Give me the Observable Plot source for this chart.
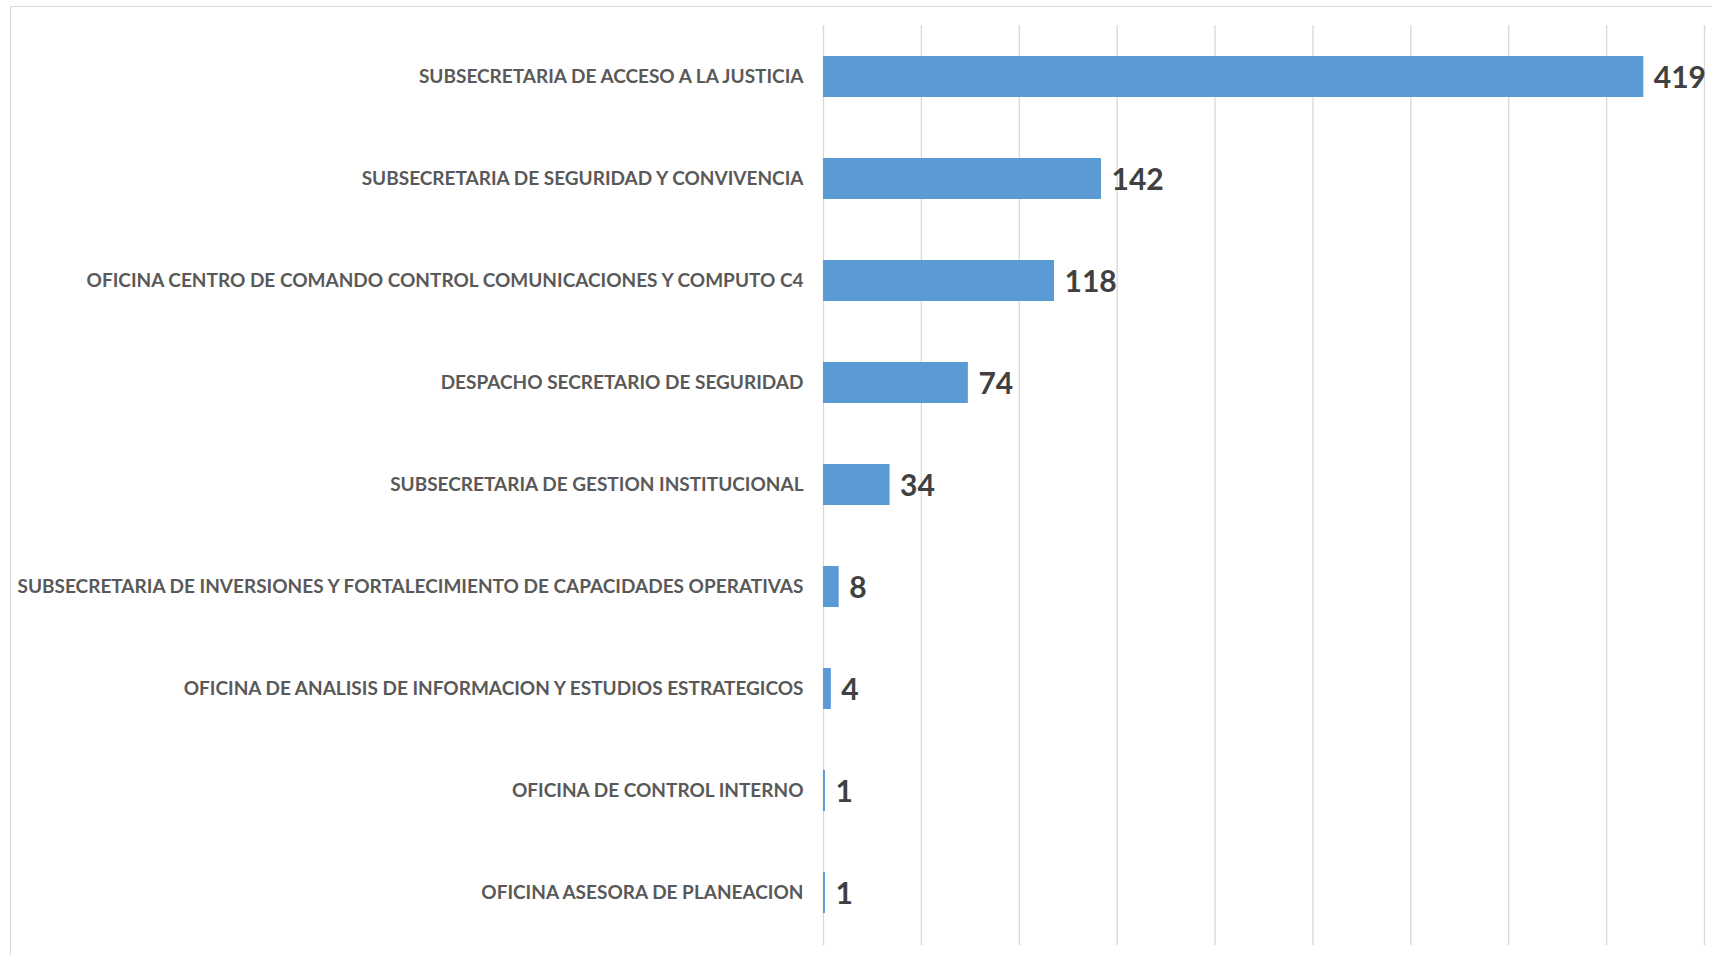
<!DOCTYPE html>
<html>
<head>
<meta charset="utf-8">
<script src="https://cdn.jsdelivr.net/npm/d3@7"></script>
<script src="https://cdn.jsdelivr.net/npm/@observablehq/plot@0.6"></script>
<style>
  html, body { margin: 0; padding: 0; background: #fff; overflow: hidden; }
  #wrap { position: relative; width: 1712px; height: 955px; }
  #frame { position: absolute; left: 10px; top: 6px; width: 1800px; height: 1000px; border: 1.5px solid #d9d9d9; box-sizing: border-box; }
  #chart { position: absolute; left: 0; top: 0; }
</style>
</head>
<body>
<div id="wrap"><div id="frame"></div><div id="chart"></div></div>
<script>
const categories = [
  "SUBSECRETARIA DE ACCESO A LA JUSTICIA",
  "SUBSECRETARIA DE SEGURIDAD Y CONVIVENCIA",
  "OFICINA CENTRO DE COMANDO CONTROL COMUNICACIONES Y COMPUTO C4",
  "DESPACHO SECRETARIO DE SEGURIDAD",
  "SUBSECRETARIA DE GESTION INSTITUCIONAL",
  "SUBSECRETARIA DE INVERSIONES Y FORTALECIMIENTO DE CAPACIDADES OPERATIVAS",
  "OFICINA DE ANALISIS DE INFORMACION Y ESTUDIOS ESTRATEGICOS",
  "OFICINA DE CONTROL INTERNO",
  "OFICINA ASESORA DE PLANEACION"
];
const values = [419, 142, 118, 74, 34, 8, 4, 1, 1];
const xTicks = [0, 50, 100, 150, 200, 250, 300, 350, 400, 450];

const data = categories.map((c, i) => ({category: c, value: values[i]}));

const chart = Plot.plot({
  width: 1712,
  height: 955,
  marginLeft: 823,
  marginRight: 8,
  marginTop: 25,
  marginBottom: 10,
  style: {fontFamily: "Lato, 'Open Sans', sans-serif", background: "transparent"},
  x: {domain: [0, 450], axis: null},
  y: {domain: categories, paddingInner: 0.595, paddingOuter: 0.3, axis: null},
  marks: [
    Plot.gridX(xTicks, {stroke: "#d9d9d9", strokeOpacity: 1, strokeWidth: 1.3}),
    Plot.barX(data, {x: "value", y: "category", fill: "#5b9bd5"}),
    Plot.axisY({tickSize: 0, tickPadding: 20, fontSize: 19, fontWeight: "bold", fill: "#595959", label: null}),
    Plot.text(data, {x: "value", y: "category", text: d => String(d.value), textAnchor: "start", dx: 10, dy: 1, fontSize: 30, fontWeight: "bold", fill: "#404040"})
  ]
});
document.getElementById("chart").appendChild(chart);
</script>
</body>
</html>
